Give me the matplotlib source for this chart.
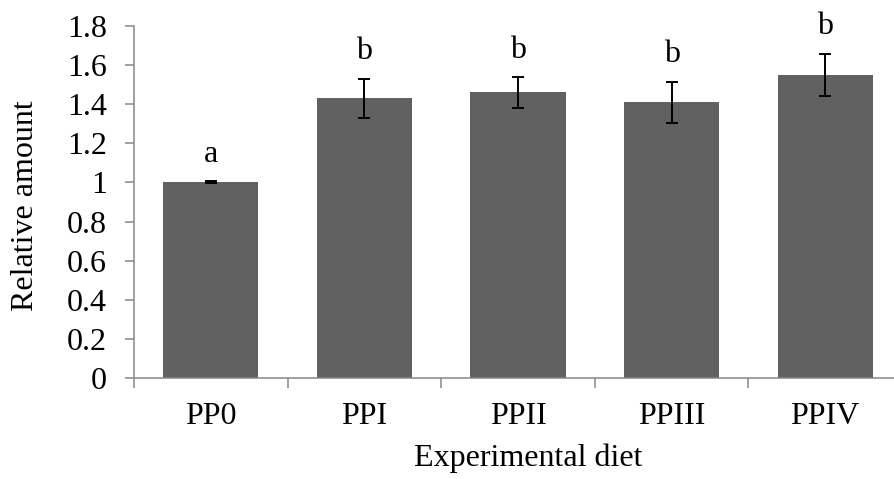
import matplotlib
matplotlib.use("Agg")
import matplotlib.pyplot as plt
import numpy as np

# Relative amount per diet, with standard error and significance letters
diets = ["PP0", "PPI", "PPII", "PPIII", "PPIV"]
means = [1.00, 1.43, 1.46, 1.41, 1.55]
errors = [0.005, 0.10, 0.077, 0.105, 0.107]
letters = ["a", "b", "b", "b", "b"]

plt.rcParams["font.family"] = ["Liberation Serif", "DejaVu Serif"]
FS = 23
AXIS_GRAY = "#888888"

fig = plt.figure(figsize=(8.94, 4.79), dpi=100)
ax = fig.add_axes([134 / 894, 101 / 479, 768 / 894, 352 / 479])

x = np.arange(len(diets))
ax.bar(x, means, width=0.62, color="#616161", zorder=2)
ax.errorbar(x, means, yerr=errors, fmt="none", ecolor="black",
            elinewidth=1.4, capsize=4.3, capthick=1.4, zorder=3)

for xi, m, e, lab in zip(x, means, errors, letters):
    ax.text(xi, m + e + 0.1, lab, ha="center", va="baseline", fontsize=FS)

ax.set_xlim(-0.5, len(diets) - 0.5)
ax.set_ylim(0, 1.8)
ax.set_yticks(np.arange(0, 1.81, 0.2))
ax.set_yticklabels([f"{v:g}" for v in np.arange(0, 1.81, 0.2).round(1)])

# category labels at centres, tick marks at the boundaries
ax.set_xticks(x)
ax.set_xticklabels(diets)
ax.set_xticks(np.arange(-0.5, len(diets)), minor=True)
ax.tick_params(axis="x", which="major", length=0, pad=17.5, labelsize=FS)
ax.tick_params(axis="x", which="minor", length=7, width=1.1, color=AXIS_GRAY,
               direction="out")
ax.tick_params(axis="y", length=6.5, width=1.1, color=AXIS_GRAY, pad=13,
               labelsize=FS, direction="out")

for side in ["top", "right"]:
    ax.spines[side].set_visible(False)
for side in ["left", "bottom"]:
    ax.spines[side].set_color(AXIS_GRAY)
    ax.spines[side].set_linewidth(1.1)

ax.set_ylabel("Relative amount", fontsize=FS)
ax.set_xlabel("Experimental diet", fontsize=FS)
ax.yaxis.set_label_coords(-0.123, 0.49)
ax.xaxis.set_label_coords(0.513, -0.185)

fig.savefig("out.png", dpi=100)
